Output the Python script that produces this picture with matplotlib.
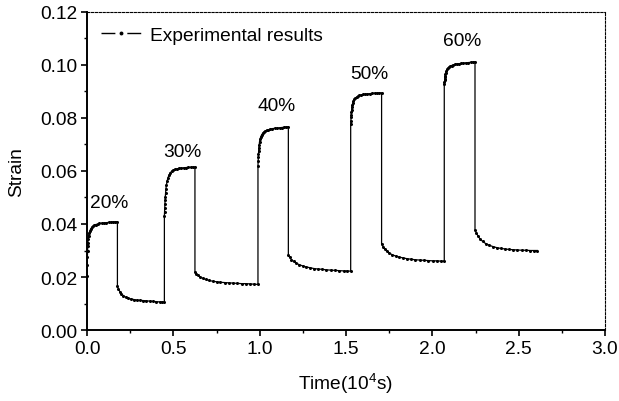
import matplotlib
matplotlib.use("Agg")
import matplotlib.pyplot as plt
from matplotlib.lines import Line2D
from matplotlib.ticker import MultipleLocator, FormatStrFormatter

plt.rcParams["font.family"] = ["Liberation Sans", "DejaVu Sans"]
plt.rcParams["mathtext.fontset"] = "custom"
plt.rcParams["mathtext.rm"] = "Liberation Sans"
plt.rcParams["mathtext.it"] = "Liberation Sans"

# creep / recovery steps: time in 10^4 s, strain
time_20_load = [0.000, 0.001, 0.002, 0.003, 0.004, 0.005, 0.007, 0.009, 0.012, 0.016, 0.021, 0.027, 0.034,
                0.042, 0.051, 0.061, 0.072, 0.084, 0.097, 0.111, 0.125, 0.139, 0.152, 0.164, 0.176]
strain_20_load = [0.0205, 0.0245, 0.0275, 0.0298, 0.0316, 0.0330, 0.0345, 0.0356, 0.0366, 0.0374, 0.0381,
                  0.0387, 0.0391, 0.0395, 0.0398, 0.0400, 0.0402, 0.0403, 0.0404, 0.0405, 0.0406, 0.0407,
                  0.0408, 0.0408, 0.0409]
time_20_unload = [0.176, 0.182, 0.190, 0.199, 0.210, 0.223, 0.238, 0.254, 0.271, 0.289, 0.307, 0.325, 0.344,
                  0.363, 0.382, 0.401, 0.420, 0.435, 0.448]
strain_20_unload = [0.0165, 0.0155, 0.0145, 0.0137, 0.0130, 0.0124, 0.0120, 0.0117, 0.0115, 0.0113, 0.0112,
                    0.0111, 0.0110, 0.0109, 0.0108, 0.0107, 0.0106, 0.0106, 0.0105]

time_30_load = [0.448, 0.449, 0.450, 0.451, 0.452, 0.453, 0.455, 0.457, 0.460, 0.464, 0.469, 0.475, 0.482,
                0.490, 0.499, 0.509, 0.520, 0.532, 0.545, 0.559, 0.573, 0.587, 0.600, 0.612, 0.625]
strain_30_load = [0.0430, 0.0447, 0.0462, 0.0476, 0.0489, 0.0500, 0.0518, 0.0533, 0.0548, 0.0562, 0.0575,
                  0.0585, 0.0593, 0.0599, 0.0603, 0.0606, 0.0608, 0.0610, 0.0611, 0.0612, 0.0613, 0.0614,
                  0.0614, 0.0615, 0.0615]
time_30_unload = [0.625, 0.633, 0.643, 0.655, 0.670, 0.687, 0.707, 0.728, 0.750, 0.773, 0.797, 0.821, 0.845,
                  0.870, 0.895, 0.920, 0.945, 0.968, 0.990]
strain_30_unload = [0.0220, 0.0213, 0.0206, 0.0200, 0.0195, 0.0191, 0.0187, 0.0184, 0.0182, 0.0180, 0.0179,
                    0.0178, 0.0177, 0.0176, 0.0175, 0.0175, 0.0174, 0.0173, 0.0172]

time_40_load = [0.990, 0.991, 0.992, 0.993, 0.994, 0.995, 0.997, 0.999, 1.002, 1.006, 1.011, 1.017, 1.024,
                1.032, 1.041, 1.051, 1.062, 1.074, 1.087, 1.101, 1.115, 1.129, 1.142, 1.154, 1.166]
strain_40_load = [0.0620, 0.0637, 0.0652, 0.0665, 0.0676, 0.0686, 0.0699, 0.0710, 0.0720, 0.0729, 0.0736,
                  0.0742, 0.0747, 0.0751, 0.0754, 0.0756, 0.0758, 0.0760, 0.0761, 0.0762, 0.0763, 0.0764,
                  0.0765, 0.0766, 0.0767]
time_40_unload = [1.166, 1.174, 1.184, 1.196, 1.211, 1.228, 1.248, 1.269, 1.291, 1.314, 1.338, 1.362, 1.386,
                  1.411, 1.436, 1.461, 1.486, 1.507, 1.527]
strain_40_unload = [0.0282, 0.0274, 0.0266, 0.0259, 0.0252, 0.0247, 0.0242, 0.0238, 0.0235, 0.0232, 0.0230,
                    0.0229, 0.0227, 0.0226, 0.0225, 0.0224, 0.0223, 0.0223, 0.0222]

time_50_load = [1.527, 1.528, 1.529, 1.530, 1.531, 1.532, 1.534, 1.536, 1.539, 1.543, 1.548, 1.554, 1.561,
                1.569, 1.578, 1.588, 1.599, 1.611, 1.624, 1.638, 1.652, 1.666, 1.680, 1.693, 1.706]
strain_50_load = [0.0777, 0.0790, 0.0802, 0.0812, 0.0821, 0.0829, 0.0840, 0.0849, 0.0857, 0.0864, 0.0870,
                  0.0875, 0.0879, 0.0882, 0.0885, 0.0887, 0.0889, 0.0890, 0.0891, 0.0892, 0.0893, 0.0894,
                  0.0894, 0.0895, 0.0895]
time_50_unload = [1.706, 1.714, 1.724, 1.736, 1.751, 1.768, 1.788, 1.809, 1.831, 1.854, 1.878, 1.902, 1.926,
                  1.951, 1.976, 2.001, 2.026, 2.048, 2.069]
strain_50_unload = [0.0325, 0.0315, 0.0305, 0.0297, 0.0290, 0.0284, 0.0279, 0.0275, 0.0272, 0.0269, 0.0267,
                    0.0265, 0.0264, 0.0263, 0.0262, 0.0261, 0.0261, 0.0260, 0.0260]

time_60_load = [2.069, 2.070, 2.071, 2.072, 2.073, 2.074, 2.076, 2.078, 2.081, 2.085, 2.090, 2.096, 2.103,
                2.111, 2.120, 2.130, 2.141, 2.153, 2.166, 2.180, 2.194, 2.208, 2.222, 2.235, 2.247]
strain_60_load = [0.0928, 0.0935, 0.0942, 0.0948, 0.0953, 0.0958, 0.0965, 0.0971, 0.0977, 0.0983, 0.0988,
                  0.0992, 0.0995, 0.0998, 0.1000, 0.1002, 0.1004, 0.1005, 0.1006, 0.1007, 0.1008, 0.1009,
                  0.1010, 0.1011, 0.1012]
time_60_unload = [2.247, 2.255, 2.265, 2.277, 2.292, 2.309, 2.329, 2.350, 2.372, 2.395, 2.419, 2.443, 2.467,
                  2.492, 2.517, 2.542, 2.567, 2.588, 2.608]
strain_60_unload = [0.0378, 0.0366, 0.0354, 0.0343, 0.0334, 0.0326, 0.0320, 0.0315, 0.0311, 0.0308, 0.0306,
                    0.0304, 0.0303, 0.0302, 0.0301, 0.0301, 0.0300, 0.0300, 0.0300]

stress_labels = ["20%", "30%", "40%", "50%", "60%"]
label_x = [0.13, 0.55, 1.10, 1.633, 2.171]
label_y = [0.0483, 0.0672, 0.0849, 0.0966, 0.1091]

time = (time_20_load + time_20_unload + time_30_load + time_30_unload + time_40_load + time_40_unload
        + time_50_load + time_50_unload + time_60_load + time_60_unload)
strain = (strain_20_load + strain_20_unload + strain_30_load + strain_30_unload + strain_40_load
          + strain_40_unload + strain_50_load + strain_50_unload + strain_60_load + strain_60_unload)

FS = 13.8

fig = plt.figure(figsize=(6.19, 4.02), dpi=100)
ax = fig.add_axes([0.1406, 0.1766, 0.8368, 0.7911])

ax.plot(time, strain, color="black", linewidth=0.9, marker="o", markersize=2.2, markeredgewidth=0)

for text, x, y in zip(stress_labels, label_x, label_y):
    ax.text(x, y, text, ha="center", va="center", fontsize=FS)

ax.set_xlim(0.0, 3.0)
ax.set_ylim(0.0, 0.12)
ax.xaxis.set_major_locator(MultipleLocator(0.5))
ax.xaxis.set_minor_locator(MultipleLocator(0.25))
ax.yaxis.set_major_locator(MultipleLocator(0.02))
ax.yaxis.set_minor_locator(MultipleLocator(0.01))
ax.xaxis.set_major_formatter(FormatStrFormatter("%.1f"))
ax.yaxis.set_major_formatter(FormatStrFormatter("%.2f"))
ax.tick_params(which="major", direction="out", length=4.5, width=1.2, labelsize=FS, pad=2.5)
ax.tick_params(which="minor", direction="out", length=2.5, width=1.0)

for side in ("left", "bottom"):
    ax.spines[side].set_linewidth(1.4)
for side in ("top", "right"):
    ax.spines[side].set_linestyle((0, (2, 1.5)))
    ax.spines[side].set_linewidth(0.8)

ax.set_xlabel("Time(10$^4$s)", fontsize=FS, labelpad=10)
ax.set_ylabel("Strain", fontsize=FS, labelpad=11)

# line-and-symbol key: dash, gap, dot, gap, dash
key_line = Line2D([], [], color="black", linewidth=1.0, linestyle=(0, (10, 8.6)))
key_dot = Line2D([], [], linestyle="none", marker="o", markersize=2.8,
                 markerfacecolor="black", markeredgewidth=0)
ax.legend([(key_line, key_dot)], ["Experimental results"], loc="upper left", frameon=False, fontsize=FS,
          numpoints=1, handlelength=2.07, handletextpad=0.45, borderaxespad=0.35)

fig.savefig("out.png", dpi=100)
